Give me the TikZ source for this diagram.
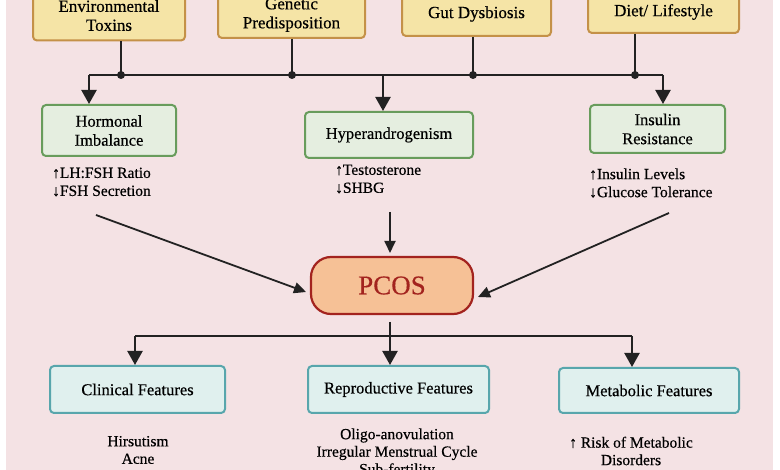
\documentclass[tikz,border=0pt]{standalone}
\usepackage{fontspec}
\setmainfont{Liberation Serif}[UprightFeatures={FakeBold=0.45}]
\usepackage{tikz}
\usetikzlibrary{arrows.meta}
\definecolor{bgpink}{RGB}{244,226,228}
\definecolor{yfill}{RGB}{245,228,166}
\definecolor{ydraw}{RGB}{196,145,72}
\definecolor{gfill}{RGB}{229,238,224}
\definecolor{gdraw}{RGB}{104,156,92}
\definecolor{tfill}{RGB}{224,240,238}
\definecolor{tdraw}{RGB}{88,166,172}
\definecolor{pfill}{RGB}{246,193,150}
\definecolor{pdraw}{RGB}{163,35,30}
\definecolor{ink}{RGB}{34,34,34}
\tikzset{
  ybox/.style={draw=ydraw, fill=yfill, line width=2pt, rounded corners=4pt, align=center, inner sep=0pt, font=\fontsize{17}{19}\selectfont},
  gbox/.style={draw=gdraw, fill=gfill, line width=2pt, rounded corners=4pt, align=center, inner sep=0pt, font=\fontsize{16.5}{19}\selectfont},
  tbox/.style={draw=tdraw, fill=tfill, line width=2pt, rounded corners=4pt, align=center, inner sep=0pt, font=\fontsize{16.5}{19}\selectfont},
  subtxt/.style={align=left, inner sep=0pt, font=\fontsize{15.5}{18}\selectfont, text=black},
  subctr/.style={align=center, inner sep=0pt, font=\fontsize{15.5}{17.5}\selectfont, text=black},
  conn/.style={draw=ink, line width=2.2pt},
  bigarr/.style={draw=ink, line width=2.2pt, -{Triangle[width=15pt,length=14pt]}},
  smallarr/.style={draw=ink, line width=1.8pt, -{Triangle[width=11pt,length=12pt]}},
  jdot/.style={circle, fill=ink, inner sep=0pt, minimum size=8pt}
}
\begin{document}
\begin{tikzpicture}[x=1pt,y=-1pt]
\useasboundingbox (0,0) rectangle (780,470);
\clip (0,0) rectangle (780,470);
\fill[white] (0,0) rectangle (780,470);
\fill[bgpink] (6,0) rectangle (773,470);

% top causes
\node[ybox, minimum width=152pt, minimum height=50pt] (env) at (109,15.5) {Environmental\\Toxins};
\node[ybox, minimum width=147pt, minimum height=46pt] (gen) at (291.5,15) {Genetic\\Predisposition};
\node[ybox, minimum width=149pt, minimum height=44pt] (gut) at (476.5,14) {Gut Dysbiosis};
\node[ybox, minimum width=151pt, minimum height=42pt] (diet) at (663.5,12) {Diet/ Lifestyle};

\coordinate (j1) at (121,75);
\coordinate (j2) at (292,75);
\coordinate (j3) at (473,75);
\coordinate (j4) at (635,75);
\coordinate (hl) at (89,75);
\coordinate (hm) at (383,75);
\coordinate (hr) at (663,75);

% mechanism boxes
\node[gbox, minimum width=134pt, minimum height=51pt] (horm) at (109,130.5) {Hormonal\\Imbalance};
\node[gbox, minimum width=168pt, minimum height=46pt] (hyper) at (389,135) {Hyperandrogenism};
\node[gbox, minimum width=135pt, minimum height=48pt] (ins) at (657.5,129) {Insulin\\Resistance};

\draw[conn] (j1 |- env.south) -- (j1);
\draw[conn] (j2 |- gen.south) -- (j2);
\draw[conn] (j3 |- gut.south) -- (j3);
\draw[conn] (j4 |- diet.south) -- (j4);
\draw[conn] (hl) -- (hr);
\draw[bigarr] (hl) -- (hl |- horm.north);
\draw[bigarr] (hm) -- (hm |- hyper.north);
\draw[bigarr] (hr) -- (hr |- ins.north);
\foreach \j in {j1,j2,j3,j4} \node[jdot] at (\j) {};

% sub texts
\node[subtxt, anchor=west] (hsub) at (52,182) {↑LH:FSH Ratio\\↓FSH Secretion};
\node[subtxt, anchor=west] (tsub) at (335,179) {↑Testosterone\\↓SHBG};
\node[subtxt, anchor=west] (isub) at (589,183) {↑Insulin Levels\\↓Glucose Tolerance};

% PCOS
\node[draw=pdraw, fill=pfill, line width=2.2pt, rounded corners=20pt, minimum width=162pt, minimum height=57pt, inner sep=0pt, text=pdraw, font=\fontsize{27}{30}\selectfont] (pcos) at (392,285.5) {PCOS};

\coordinate (s1) at (96,215);
\coordinate (e1) at (306,292);
\coordinate (s2) at (390,212);
\coordinate (e2) at (390,253);
\coordinate (s3) at (669,213);
\coordinate (e3) at (478,297);
\draw[smallarr] (s1) -- (e1);
\draw[smallarr] (s2) -- (e2);
\draw[smallarr] (s3) -- (e3);

% features
\node[tbox, minimum width=175pt, minimum height=47pt] (clin) at (137.5,389.5) {Clinical Features};
\node[tbox, minimum width=181pt, minimum height=47pt] (repr) at (398.5,389.5) {Reproductive Features};
\node[tbox, minimum width=180pt, minimum height=45pt] (meta) at (649,390.5) {Metabolic Features};

\coordinate (p0) at (390,322);
\coordinate (bl) at (135,336);
\coordinate (bm) at (390,336);
\coordinate (br) at (632,336);
\draw[conn] (bl) -- (br);
\draw[bigarr] (p0) -- (p0 |- repr.north);
\draw[bigarr] (bl) -- (bl |- clin.north);
\draw[bigarr] (br) -- (br |- meta.north);

\node[subctr] (csub) at (138,450) {Hirsutism\\Acne};
\node[subctr] (rsub) at (397,453) {Oligo-anovulation\\Irregular Menstrual Cycle\\Sub-fertility};
\node[subctr] (msub) at (631,451) {↑ Risk of Metabolic\\Disorders};
\end{tikzpicture}
\end{document}
